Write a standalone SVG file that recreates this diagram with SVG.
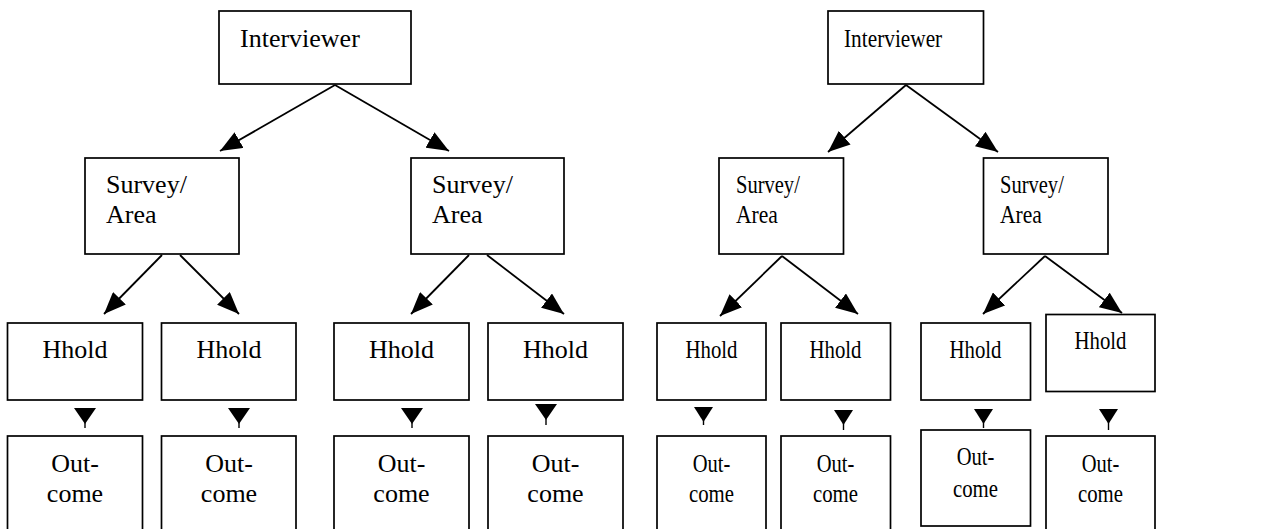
<svg xmlns="http://www.w3.org/2000/svg" width="1285" height="529" viewBox="0 0 1285 529">
<defs>
<marker id="ah" markerUnits="userSpaceOnUse" markerWidth="22" markerHeight="18" viewBox="0 0 22 18" refX="22" refY="9" orient="auto">
<path d="M0,0 L22,9 L0,18 z" fill="#000"/>
</marker>
<style>
rect{fill:#fff;stroke:#000;stroke-width:1.7}
text{font-family:"Liberation Serif","Times New Roman",serif;font-size:26px;fill:#000}
.c{text-anchor:middle}
.e line{stroke:#000;stroke-width:1.8;marker-end:url(#ah)}
.e polygon{fill:#000}
.e .s{stroke:#000;stroke-width:1.4;marker-end:none}
</style>
</defs>
<rect x="0" y="0" width="1285" height="529" style="fill:#fff;stroke:none"/>
<g id="connectors" class="e">
<line x1="335" y1="85" x2="220" y2="151"/>
<line x1="335" y1="85" x2="449" y2="151"/>
<line x1="162" y1="255" x2="104" y2="314"/>
<line x1="180" y1="255" x2="239" y2="314"/>
<line x1="469" y1="255" x2="411" y2="314"/>
<line x1="487" y1="255" x2="564" y2="314"/>
<line x1="906" y1="85" x2="828" y2="152"/>
<line x1="906" y1="85" x2="998" y2="152"/>
<line x1="782" y1="256" x2="720" y2="316"/>
<line x1="782" y1="256" x2="858" y2="314"/>
<line x1="1045" y1="256" x2="983" y2="314"/>
<line x1="1045" y1="256" x2="1122" y2="313"/>
<polygon points="74,408 96,408 85,424"/><line class="s" x1="85" y1="420" x2="85" y2="428"/>
<polygon points="228,408 250,408 239,424"/><line class="s" x1="239" y1="420" x2="239" y2="428"/>
<polygon points="401,408 423,408 412,424"/><line class="s" x1="412" y1="420" x2="412" y2="428"/>
<polygon points="535,404 557,404 546,420"/><line class="s" x1="546" y1="416" x2="546" y2="425"/>
<polygon points="694,407 713,407 703.5,422"/><line class="s" x1="703.5" y1="418" x2="703.5" y2="425"/>
<polygon points="834,410 853,410 843.5,425"/><line class="s" x1="843.5" y1="420" x2="843.5" y2="430"/>
<polygon points="974,409 993,409 983.5,424"/><line class="s" x1="983.5" y1="420" x2="983.5" y2="428"/>
<polygon points="1099,409 1118,409 1108.5,424"/><line class="s" x1="1108.5" y1="420" x2="1108.5" y2="430"/>
</g>
<g id="interviewer-1"><rect x="219" y="11" width="192" height="73"/><text x="240" y="47">Interviewer</text></g>
<g id="survey-1"><rect x="85" y="158" width="154" height="96"/><text x="106" y="193">Survey/</text><text x="106" y="223">Area</text></g>
<g id="survey-2"><rect x="411" y="158" width="153" height="96"/><text x="432" y="193">Survey/</text><text x="432" y="223">Area</text></g>
<g id="hhold-1"><rect x="7.5" y="323" width="135" height="77"/><text class="c" x="75" y="358">Hhold</text></g>
<g id="hhold-2"><rect x="161.5" y="323" width="134.5" height="77"/><text class="c" x="229" y="358">Hhold</text></g>
<g id="hhold-3"><rect x="334" y="323" width="135" height="77"/><text class="c" x="401.5" y="358">Hhold</text></g>
<g id="hhold-4"><rect x="488" y="323" width="135" height="77"/><text class="c" x="555.5" y="358">Hhold</text></g>
<g id="outcome-1"><rect x="7.5" y="436" width="135" height="110"/><text class="c" x="75" y="472">Out-</text><text class="c" x="75" y="502">come</text></g>
<g id="outcome-2"><rect x="161.5" y="436" width="134.5" height="110"/><text class="c" x="229" y="472">Out-</text><text class="c" x="229" y="502">come</text></g>
<g id="outcome-3"><rect x="334" y="436" width="135" height="110"/><text class="c" x="401.5" y="472">Out-</text><text class="c" x="401.5" y="502">come</text></g>
<g id="outcome-4"><rect x="488" y="436" width="135" height="110"/><text class="c" x="555.5" y="472">Out-</text><text class="c" x="555.5" y="502">come</text></g>
<g id="interviewer-2"><rect x="828" y="11" width="155.5" height="73"/><text transform="translate(844,47) scale(0.82,1)">Interviewer</text></g>
<g id="survey-3"><rect x="719" y="158" width="124.5" height="96"/><text transform="translate(736,193) scale(0.79,1)">Survey/</text><text transform="translate(736,223) scale(0.83,1)">Area</text></g>
<g id="survey-4"><rect x="983.5" y="158" width="124.5" height="96"/><text transform="translate(1000,193) scale(0.79,1)">Survey/</text><text transform="translate(1000,223) scale(0.83,1)">Area</text></g>
<g id="hhold-5"><rect x="657" y="323" width="109" height="77"/><text class="c" transform="translate(711.5,358) scale(0.8,1)">Hhold</text></g>
<g id="hhold-6"><rect x="781" y="323" width="109.5" height="77"/><text class="c" transform="translate(835.5,358) scale(0.8,1)">Hhold</text></g>
<g id="hhold-7"><rect x="921" y="323" width="109.5" height="77"/><text class="c" transform="translate(975.5,358) scale(0.8,1)">Hhold</text></g>
<g id="hhold-8"><rect x="1046" y="314.5" width="109" height="77"/><text class="c" transform="translate(1100.5,349) scale(0.8,1)">Hhold</text></g>
<g id="outcome-5"><rect x="657" y="436" width="109" height="110"/><text class="c" transform="translate(711.5,472) scale(0.79,1)">Out-</text><text class="c" transform="translate(711.5,502) scale(0.8,1)">come</text></g>
<g id="outcome-6"><rect x="781" y="436" width="109.5" height="110"/><text class="c" transform="translate(835.5,472) scale(0.79,1)">Out-</text><text class="c" transform="translate(835.5,502) scale(0.8,1)">come</text></g>
<g id="outcome-7"><rect x="921" y="430" width="109.5" height="96"/><text class="c" transform="translate(975.5,465) scale(0.79,1)">Out-</text><text class="c" transform="translate(975.5,497) scale(0.8,1)">come</text></g>
<g id="outcome-8"><rect x="1046" y="436" width="109" height="110"/><text class="c" transform="translate(1100.5,472) scale(0.79,1)">Out-</text><text class="c" transform="translate(1100.5,502) scale(0.8,1)">come</text></g>
</svg>
